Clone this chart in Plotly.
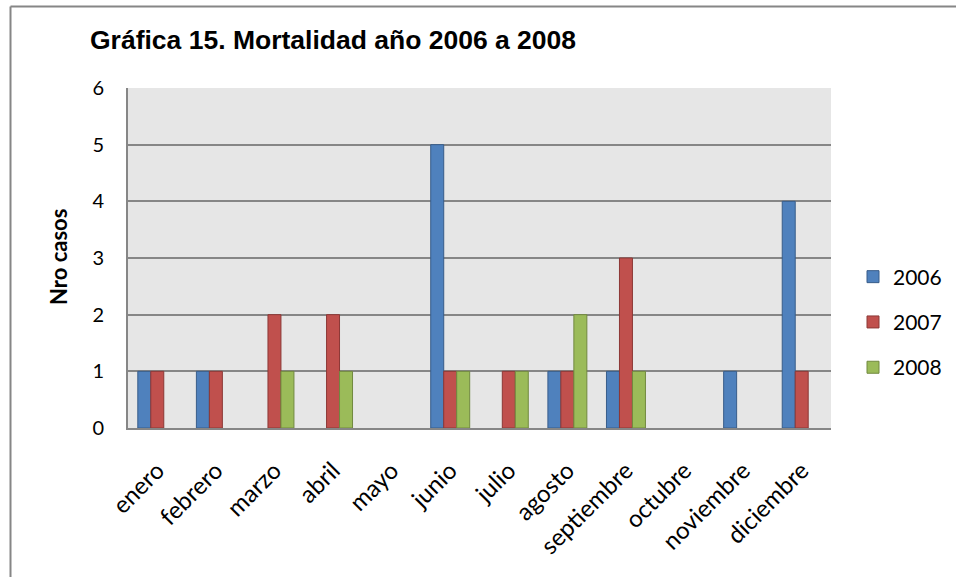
import plotly.graph_objects as go

months = ["enero", "febrero", "marzo", "abril", "mayo", "junio", "julio",
          "agosto", "septiembre", "octubre", "noviembre", "diciembre"]
v2006 = [1, 1, 0, 0, 0, 5, 0, 1, 1, 0, 1, 4]
v2007 = [1, 1, 2, 2, 0, 1, 1, 1, 3, 0, 0, 1]
v2008 = [0, 0, 1, 1, 0, 1, 1, 2, 1, 0, 0, 0]
series_names = ["2006", "2007", "2008"]

fills = ["#4f81bd", "#c0504d", "#9bbb59"]
lines = ["#385d8a", "#8c3836", "#71893f"]

fig = go.Figure()
for name, vals, fc, lc in zip(series_names, [v2006, v2007, v2008], fills, lines):
    fig.add_trace(go.Bar(x=months, y=[v if v else None for v in vals], name=name, legendgroup=name,
                         marker=dict(color=fc, line=dict(color=lc, width=1))))

W, H = 956, 577
L, R, T, B = 128, 831, 88, 428
PW, PH = R - L, B - T
fig.update_layout(
    width=W, height=H,
    margin=dict(l=L, r=W - R, t=T, b=H - B, autoexpand=False),
    paper_bgcolor="white", plot_bgcolor="#e6e6e6",
    barmode="group", bargap=0.335, bargroupgap=0,
    font=dict(family="Lato, Open Sans, sans-serif", color="black", size=20),
    title=dict(text="<b>Gráfica 15. Mortalidad año 2006 a 2008</b>",
               font=dict(family="Liberation Sans, Arial, sans-serif", size=26.5, color="black"),
               x=90 / W, xanchor="left", y=1 - 40 / H, yanchor="middle"),
    legend=dict(x=(853 - L) / PW, xanchor="left", y=(B - 322) / PH, yanchor="middle",
                font=dict(size=21), tracegroupgap=15, bgcolor="rgba(0,0,0,0)"),
    showlegend=True,
)
fig.update_xaxes(showline=True, linecolor="#868686", linewidth=2, tickangle=-45,
                 ticks="outside", ticklen=17, tickcolor="rgba(0,0,0,0)",
                 tickfont=dict(size=24), showgrid=False)
fig.update_yaxes(range=[0, 6], dtick=1, showline=True, linecolor="#868686", linewidth=2,
                 showgrid=True, gridcolor="#868686", gridwidth=1.5,
                 ticks="outside", ticklen=18, tickcolor="rgba(0,0,0,0)",
                 tickfont=dict(size=20), zeroline=False)
fig.add_annotation(text="<b>Nro casos</b>", xref="paper", yref="paper",
                   x=(58 - L) / PW, y=(B - 257) / PH,
                   xanchor="center", yanchor="middle", textangle=-90,
                   showarrow=False, font=dict(size=22, color="black"))
# outer chart border (left and top edges visible)
bx = (10.5 - L) / PW
by = (B - 6.5) / PH
fig.add_shape(type="line", xref="paper", yref="paper", x0=bx, x1=bx, y0=-1.0, y1=by,
              line=dict(color="#868686", width=2), layer="below")
fig.add_shape(type="line", xref="paper", yref="paper", x0=bx, x1=(W + 20 - L) / PW, y0=by, y1=by,
              line=dict(color="#868686", width=2), layer="below")
fig.write_html("out.html", config={"displayModeBar": False},
               post_script="document.body.style.margin='0';document.body.style.overflow='hidden';")
